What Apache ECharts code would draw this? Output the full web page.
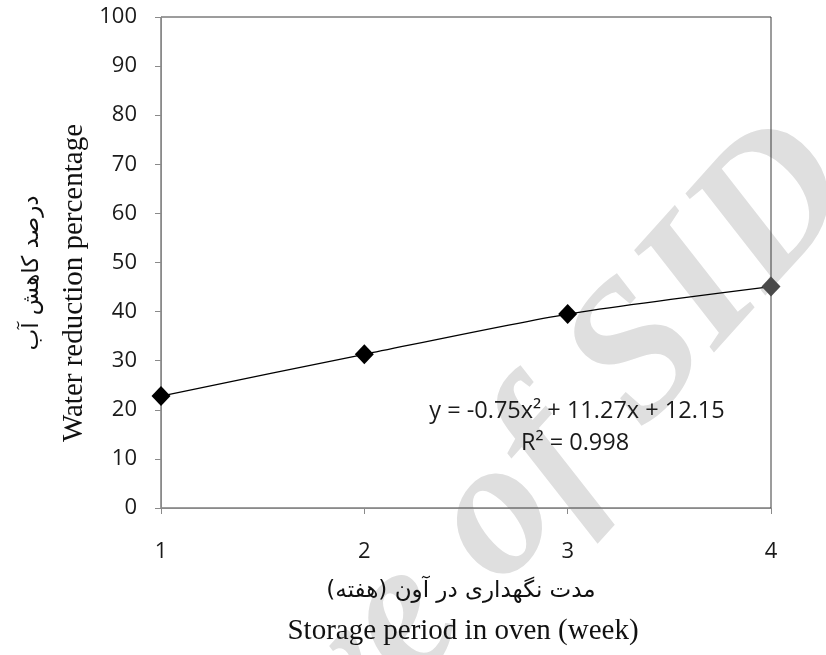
<!DOCTYPE html>
<html>
<head>
<meta charset="utf-8">
<script src="https://cdn.jsdelivr.net/npm/echarts@6/dist/echarts.min.js"></script>
<style>
  html, body { margin: 0; padding: 0; background: #fff; }
  #chart { width: 826px; height: 655px; }
</style>
</head>
<body>
<div id="chart"></div>
<script>
// Storage period (weeks) and measured water reduction (%)
var weeks = [1, 2, 3, 4];
var waterReduction = [22.8, 31.3, 39.5, 45.1];
var yTicks = { min: 0, max: 100, step: 10 };
var xTicks = { min: 1, max: 4, step: 1 };

var yTitleFa = '\u200Fدرصد کاهش آب\u200F';
var yTitleEn = 'Water reduction percentage';
var xTitleFa = '\u200Fمدت نگهداری در آون (هفته)\u200F';
var xTitleEn = 'Storage period in oven (week)';
var equationText = 'y = -0.75x² + 11.27x + 12.15';
var r2Text = 'R² = 0.998';
var watermarkText = 'Archive of SID';

var points = weeks.map(function (w, i) {
  var p = { value: [w, waterReduction[i]] };
  if (i === weeks.length - 1) p.itemStyle = { color: '#4a4a4a' };
  return p;
});

var labelFont = '"Open Sans", "Liberation Sans", sans-serif';
var serifFont = '"Liberation Serif", "DejaVu Serif", serif';
var arabicFont = '"DejaVu Sans", sans-serif';

var chart = echarts.init(document.getElementById('chart'), null, { renderer: 'canvas' });
chart.setOption({
  animation: false,
  backgroundColor: '#ffffff',
  grid: {
    left: 161, right: 55, top: 17, bottom: 147,
    show: true, borderColor: '#3a3a3a', borderWidth: 1, backgroundColor: 'transparent'
  },
  xAxis: {
    type: 'value',
    min: xTicks.min, max: xTicks.max, interval: xTicks.step,
    axisLine: { show: true, lineStyle: { color: '#8a8a8a', width: 1 } },
    axisTick: { show: true, length: 6, lineStyle: { color: '#8a8a8a' } },
    axisLabel: { margin: 33, fontSize: 22, color: '#1a1a1a', fontFamily: labelFont },
    splitLine: { show: false }
  },
  yAxis: {
    type: 'value',
    min: yTicks.min, max: yTicks.max, interval: yTicks.step,
    axisLine: { show: true, lineStyle: { color: '#8a8a8a', width: 1 } },
    axisTick: { show: true, length: 6, lineStyle: { color: '#8a8a8a' } },
    axisLabel: { margin: 24, fontSize: 22, color: '#1a1a1a', fontFamily: labelFont },
    splitLine: { show: false }
  },
  series: [{
    type: 'line',
    data: points,
    smooth: 0.25,
    symbol: 'diamond',
    symbolSize: [19, 20],
    itemStyle: { color: '#000000' },
    lineStyle: { color: '#000000', width: 1.2 },
    clip: false,
    z: 5
  }],
  graphic: [
    {
      type: 'text', z: -10, silent: true,
      x: 417, y: 607, rotation: 48 * Math.PI / 180,
      style: {
        text: watermarkText, fill: '#dfdfdf',
        font: 'italic bold 195px ' + serifFont,
        textAlign: 'center', textVerticalAlign: 'middle'
      }
    },
    {
      type: 'text', x: 32, y: 273, rotation: Math.PI / 2,
      style: { text: yTitleFa, fill: '#111', font: '23px ' + arabicFont, textAlign: 'center', textVerticalAlign: 'middle' }
    },
    {
      type: 'text', x: 74, y: 283, rotation: Math.PI / 2,
      style: { text: yTitleEn, fill: '#111', font: '29px ' + serifFont, textAlign: 'center', textVerticalAlign: 'middle' }
    },
    {
      type: 'text', x: 461, y: 591,
      style: { text: xTitleFa, fill: '#111', font: '23px ' + arabicFont, textAlign: 'center', textVerticalAlign: 'middle' }
    },
    {
      type: 'text', x: 463, y: 631,
      style: { text: xTitleEn, fill: '#111', font: '29px ' + serifFont, textAlign: 'center', textVerticalAlign: 'middle' }
    },
    {
      type: 'text', x: 577, y: 411, z: 10,
      style: { text: equationText, fill: '#1a1a1a', font: '23.5px ' + labelFont, textAlign: 'center', textVerticalAlign: 'middle' }
    },
    {
      type: 'text', x: 575, y: 443, z: 10,
      style: { text: r2Text, fill: '#1a1a1a', font: '23.5px ' + labelFont, textAlign: 'center', textVerticalAlign: 'middle' }
    }
  ]
});
</script>
</body>
</html>
